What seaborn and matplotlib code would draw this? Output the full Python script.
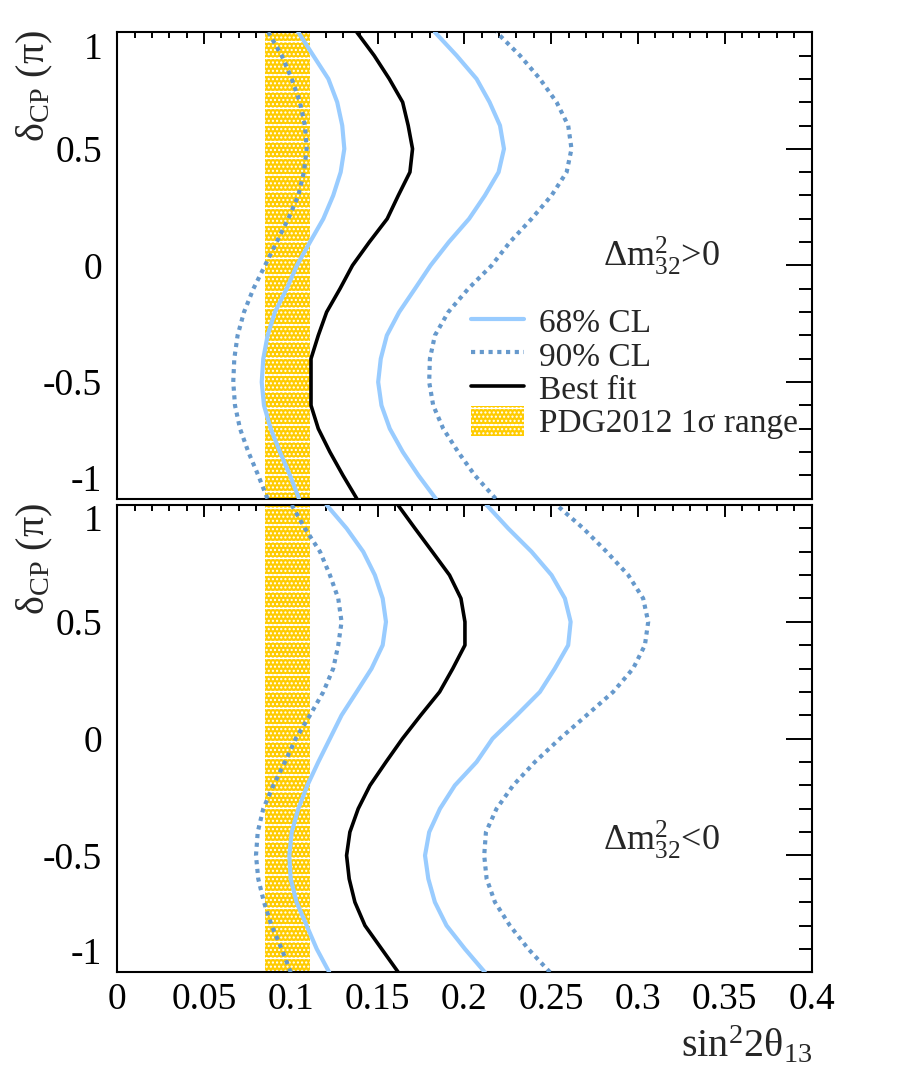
import matplotlib
matplotlib.use('Agg')
import matplotlib.pyplot as plt
import seaborn as sns
from matplotlib.ticker import MultipleLocator
from matplotlib.lines import Line2D
from matplotlib.patches import Patch

# delta_CP grid (units of pi)
delta = [-1.0, -0.9, -0.8, -0.7, -0.6, -0.5, -0.4, -0.3, -0.2, -0.1, 0.0,
         0.1, 0.2, 0.3, 0.4, 0.5, 0.6, 0.7, 0.8, 0.9, 1.0]

# normal hierarchy (dm2_32 > 0)
nh_best = [0.138, 0.130, 0.1225, 0.1158, 0.1116, 0.1116, 0.1116, 0.1158, 0.1206, 0.1283, 0.1355,
           0.1452, 0.1555, 0.1619, 0.1686, 0.1701, 0.1676, 0.1644, 0.1567, 0.148, 0.138]
nh_68_lo = [0.1047, 0.0995, 0.0937, 0.0884, 0.0845, 0.0832, 0.0841, 0.0866, 0.0908, 0.0976, 0.1035,
            0.111, 0.1187, 0.1244, 0.1287, 0.1308, 0.1296, 0.1267, 0.1216, 0.1129, 0.1043]
nh_68_hi = [0.1835, 0.1735, 0.1645, 0.157, 0.1522, 0.1503, 0.1518, 0.1553, 0.1624, 0.1715, 0.1805,
            0.191, 0.2027, 0.2118, 0.2197, 0.2228, 0.2205, 0.2145, 0.207, 0.1955, 0.183]
nh_90_lo = [0.0865, 0.0812, 0.0755, 0.0707, 0.0678, 0.0668, 0.0674, 0.0693, 0.073, 0.0784, 0.0851,
            0.0918, 0.0985, 0.1043, 0.1075, 0.1091, 0.1081, 0.1052, 0.1005, 0.0947, 0.087]
nh_90_hi = [0.218, 0.206, 0.1964, 0.1878, 0.182, 0.1797, 0.1801, 0.183, 0.1907, 0.2022, 0.2157,
            0.2262, 0.2387, 0.2502, 0.2589, 0.2617, 0.2598, 0.2531, 0.2435, 0.232, 0.2185]

# inverted hierarchy (dm2_32 < 0)
ih_best = [0.1619, 0.1523, 0.1427, 0.1369, 0.1336, 0.1321, 0.134, 0.1388, 0.1456, 0.1548, 0.1643,
           0.1748, 0.1857, 0.1933, 0.2003, 0.2003, 0.198, 0.1914, 0.1815, 0.1715, 0.1617]
ih_68_lo = [0.1221, 0.1149, 0.1091, 0.1033, 0.0999, 0.0991, 0.1005, 0.1043, 0.1095, 0.1158, 0.1225,
            0.1292, 0.1379, 0.1465, 0.1529, 0.1548, 0.1529, 0.1484, 0.1417, 0.1321, 0.1206]
ih_68_hi = [0.2118, 0.2003, 0.1897, 0.183, 0.1792, 0.1773, 0.1797, 0.1859, 0.1945, 0.207, 0.2162,
            0.2301, 0.2435, 0.2521, 0.2598, 0.2612, 0.2579, 0.2502, 0.2387, 0.2252, 0.2128]
ih_90_lo = [0.0999, 0.0947, 0.0889, 0.0845, 0.0812, 0.0799, 0.0809, 0.0841, 0.0899, 0.0966, 0.1028,
            0.111, 0.1187, 0.1244, 0.1273, 0.1292, 0.1273, 0.1225, 0.1168, 0.1081, 0.1005]
ih_90_hi = [0.2493, 0.2368, 0.2262, 0.2176, 0.2128, 0.2114, 0.2124, 0.2185, 0.2281, 0.2406, 0.255,
            0.2704, 0.2857, 0.2972, 0.304, 0.3059, 0.303, 0.2944, 0.2819, 0.2685, 0.2531]

# PDG2012 1 sigma range of sin^2 2theta13
pdg_lo, pdg_hi = 0.085, 0.111

x_ticks = [0, 0.05, 0.1, 0.15, 0.2, 0.25, 0.3, 0.35, 0.4]
x_labels = ['0', '0.05', '0.1', '0.15', '0.2', '0.25', '0.3', '0.35', '0.4']
y_ticks = [-1, -0.5, 0, 0.5, 1]
y_labels = ['-1', '-0.5', '0', '0.5', '1']

c68 = '#99CCFF'
c90 = '#6699CC'
cgold = '#FFCC00'
dots = (0, (1.0, 1.1))
band_hatch = '....-'

sns.set_theme(style='white')
plt.rcParams['font.family'] = ['Liberation Serif', 'DejaVu Serif']
plt.rcParams['mathtext.fontset'] = 'custom'
plt.rcParams['mathtext.rm'] = 'Liberation Serif'
plt.rcParams['mathtext.it'] = 'Liberation Serif:italic'
plt.rcParams['hatch.linewidth'] = 1.0

fig = plt.figure(figsize=(9.06, 10.74), dpi=100)
ax_top = fig.add_axes([0.1295, 0.5357, 0.7662, 0.4343])
ax_bot = fig.add_axes([0.1295, 0.0947, 0.7662, 0.4351])


def draw_panel(ax, best, lo68, hi68, lo90, hi90):
    ax.axvspan(pdg_lo, pdg_hi, facecolor=cgold, edgecolor='white', hatch=band_hatch, lw=0, zorder=1)
    for v in (lo68, hi68):
        sns.lineplot(x=v, y=delta, sort=False, estimator=None, color=c68, lw=3.0, ax=ax, zorder=3)
    for v in (lo90, hi90):
        sns.lineplot(x=v, y=delta, sort=False, estimator=None, color=c90, lw=3.0,
                     linestyle=dots, ax=ax, zorder=3)
    sns.lineplot(x=best, y=delta, sort=False, estimator=None, color='black', lw=2.6, ax=ax, zorder=4)
    ax.set_xlim(0, 0.4)
    ax.set_ylim(-1, 1)
    ax.set_xticks(x_ticks, labels=x_labels)
    ax.set_yticks(y_ticks, labels=y_labels)
    ax.xaxis.set_minor_locator(MultipleLocator(0.01))
    ax.yaxis.set_minor_locator(MultipleLocator(0.1))
    ax.tick_params(which='both', direction='in', top=True, right=True, width=1.4,
                   labelsize=27, colors='black')
    ax.tick_params(axis='x', which='major', length=8.6, pad=7)
    ax.tick_params(axis='x', which='minor', length=4.3)
    ax.tick_params(axis='y', which='major', length=18.7, pad=11)
    ax.tick_params(axis='y', which='minor', length=9.4)
    for s in ax.spines.values():
        s.set_linewidth(1.5)
        s.set_color('black')
    ax.set_xlabel('')
    ax.set_ylabel('')
    labs = ax.get_yticklabels()
    labs[0].set_verticalalignment('bottom')
    labs[-1].set_verticalalignment('top')


draw_panel(ax_top, nh_best, nh_68_lo, nh_68_hi, nh_90_lo, nh_90_hi)
draw_panel(ax_bot, ih_best, ih_68_lo, ih_68_hi, ih_90_lo, ih_90_hi)
ax_top.tick_params(axis='x', labelbottom=False)

ax_top.text(0.2797, -0.005, 'Δm$^{2}_{32}$>0', fontsize=26, va='baseline')
ax_bot.text(0.2797, -0.477, 'Δm$^{2}_{32}$<0', fontsize=26, va='baseline')

for yt in (30 / 1074, 503 / 1074):
    fig.text(35 / 906, 1 - yt, 'δ$_{\\mathrm{CP}}$ (π)', rotation=90, ha='center', va='top', fontsize=29)
fig.text(812 / 906, 1 - 1057 / 1074, 'sin$^{2}$2θ$_{13}$', ha='right', va='baseline', fontsize=29)

handles = [Line2D([], [], color=c68, lw=3.0),
           Line2D([], [], color=c90, lw=3.0, linestyle=dots),
           Line2D([], [], color='black', lw=2.6),
           Patch(facecolor=cgold, edgecolor='white', hatch=band_hatch, lw=0)]
names = ['68% CL', '90% CL', 'Best fit', 'PDG2012 1σ range']
fig.legend(handles, names, loc='upper left', bbox_to_anchor=(471 / 906, 1 - 306 / 1074),
           frameon=False, fontsize=24, handlelength=1.6, handletextpad=0.45,
           labelspacing=0.0, borderpad=0, borderaxespad=0, handleheight=1.0)

fig.savefig('out.png', dpi=100)
